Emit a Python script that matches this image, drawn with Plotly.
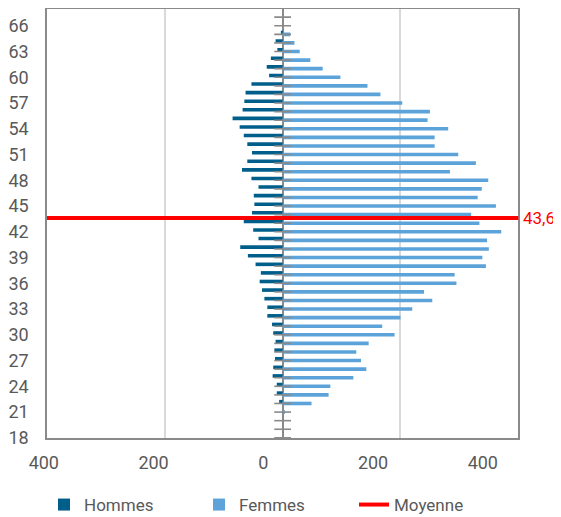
import plotly.graph_objects as go

AGES = list(range(18, 68))
HOMMES = [0, 0, 0, 0, 6, 10, 10, 17, 16, 13, 14, 12, 16, 18, 26, 26, 31, 35, 39, 37,
          46, 59, 72, 41, 50, 66, 52, 48, 49, 41, 53, 69, 60, 52, 60, 66, 73, 85, 68, 65,
          63, 53, 23, 27, 20, 9, 12, 3, 0, 0]
FEMMES = [0, 0, 0, 4, 49, 78, 81, 120, 142, 133, 125, 146, 190, 169, 200, 220, 254, 240, 295, 292,
          345, 339, 350, 347, 371, 334, 320, 362, 331, 338, 349, 284, 328, 298, 258, 258, 281, 246, 250, 203,
          166, 144, 98, 68, 47, 29, 20, 13, 0, 0]
MOYENNE = 43.6
X_TICKS = [-400, -200, 0, 200, 400]
X_LABELS = ["400", "200", "0", "200", "400"]
Y_TICKS = list(range(18, 67, 3))

DARK = "#005E8B"
LIGHT = "#5CA3DA"
GREY_TXT = "#595959"
AXIS_GREY = "#8a8a8a"
FONT = "Roboto"

# the page body has an 8px margin: the figure is sized so that it ends at the window edge
FIG_W, FIG_H = 553, 509
M_L, M_R, M_T, M_B = 32, 30, 1, 79
W_PAPER = FIG_W - M_L - M_R

fig = go.Figure()
fig.add_trace(go.Bar(y=AGES, x=[-v for v in HOMMES], orientation="h", name="Hommes",
                     marker=dict(color=DARK, line=dict(width=0)), width=0.42, offset=0.0))
fig.add_trace(go.Bar(y=AGES, x=FEMMES, orientation="h", name="Femmes",
                     marker=dict(color=LIGHT, line=dict(width=0)), width=0.42, offset=-0.21))
fig.add_trace(go.Scatter(y=AGES, x=[0] * len(AGES), mode="markers", showlegend=False,
                         hoverinfo="skip",
                         marker=dict(symbol="line-ew", size=12, line=dict(width=1.6, color=AXIS_GREY))))
fig.add_trace(go.Scatter(x=[None], y=[None], mode="lines", name="Moyenne",
                         line=dict(color="#FF0000", width=4)))
# empty carrier so that the label axis is drawn
fig.add_trace(go.Scatter(x=[None], y=[None], xaxis="x2", yaxis="y2", showlegend=False,
                         hoverinfo="skip", mode="markers"))

fig.add_shape(type="line", xref="x domain", x0=0, x1=1, yref="y", y0=MOYENNE, y1=MOYENNE,
              line=dict(color="#FF0000", width=4), layer="above")
fig.add_annotation(xref="x domain", x=1, y=MOYENNE, yref="y", xanchor="left", xshift=3,
                   text=f"{MOYENNE:.1f}".replace(".", ","), showarrow=False,
                   font=dict(color="#FF0000", size=17, family=FONT))

fig.update_layout(
    width=FIG_W, height=FIG_H,
    margin=dict(l=M_L, r=M_R, t=M_T, b=M_B, autoexpand=False),
    plot_bgcolor="rgba(0,0,0,0)", paper_bgcolor="white",
    barmode="overlay",
    font=dict(family=FONT, color=GREY_TXT, size=18),
    showlegend=True,
    legend=dict(orientation="h", xref="container", x=36 / FIG_W, xanchor="left",
                yref="container", y=12 / FIG_H, yanchor="middle",
                font=dict(size=17, color=GREY_TXT, family=FONT),
                entrywidth=110, entrywidthmode="pixels", traceorder="normal",
                bgcolor="rgba(0,0,0,0)"),
    xaxis=dict(domain=[7 / W_PAPER, 478.3 / W_PAPER], range=[-400, 400],
               tickvals=X_TICKS, showticklabels=False, ticks="", automargin=False,
               showgrid=True, gridcolor="#d9d9d9", gridwidth=2,
               zeroline=True, zerolinecolor=AXIS_GREY, zerolinewidth=2,
               showline=True, mirror=True, linecolor=AXIS_GREY, linewidth=1.5),
    yaxis=dict(range=[17.98, 67.95], tickvals=Y_TICKS, showgrid=False, zeroline=False,
               ticks="", ticklabelstandoff=13, automargin=False,
               tickfont=dict(size=18, color=GREY_TXT, family=FONT),
               showline=True, mirror=True, linecolor=AXIS_GREY, linewidth=1.5),
    xaxis2=dict(domain=[3.8 / W_PAPER, 442.8 / W_PAPER], range=[-400, 400],
                anchor="y2", tickvals=X_TICKS, ticktext=X_LABELS,
                showgrid=False, zeroline=False, showline=False, ticks="", automargin=False,
                ticklabelstandoff=12, tickfont=dict(size=18, color=GREY_TXT, family=FONT)),
    yaxis2=dict(domain=[0, 1], anchor="x2", range=[0, 1], visible=False, automargin=False),
)

fig.write_html("out.html")
